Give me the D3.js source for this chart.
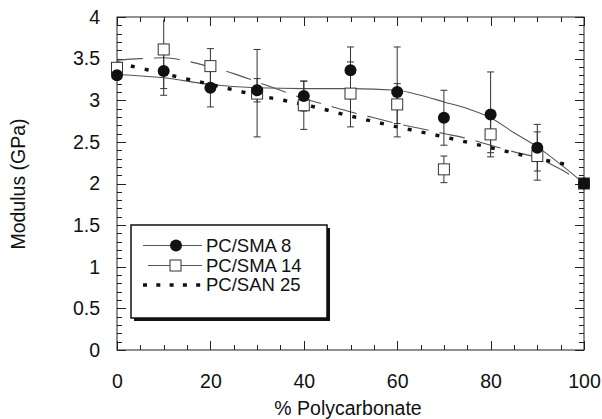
<!DOCTYPE html>
<html><head><meta charset="utf-8">
<script src="https://cdn.jsdelivr.net/npm/d3@7"></script>
<style>
body{margin:0;background:#fff;}
svg{display:block;}
text{font-family:"Liberation Sans",Arial,Helvetica,sans-serif;fill:#111;}
</style></head>
<body><svg id="c" width="602" height="419"></svg>
<script>
// ---- data ----
const pct = [0,10,20,30,40,50,60,70,80,90,100];
const sma8 = [3.30,3.35,3.15,3.12,3.05,3.36,3.10,2.79,2.83,2.43,2.00];
const sma8Lo = [null,3.06,2.92,2.98,2.87,3.08,2.56,2.46,2.32,2.15,null];
const sma8Hi = [null,3.56,3.38,3.26,3.23,3.64,3.64,3.12,3.34,2.71,null];
const sma14 = [3.39,3.61,3.41,3.08,2.94,3.08,2.95,2.17,2.59,2.33,2.00];
const sma14Lo = [null,3.14,3.20,2.56,2.65,2.68,2.72,2.01,2.37,2.04,null];
const sma14Hi = [null,3.97,3.62,3.61,3.23,3.46,3.20,2.33,2.81,2.62,null];
const fit8X = [0,10,20,30,40,50,60,65,70,75,80,85,90,95,100];
const fit8Y = [3.31,3.27,3.19,3.15,3.14,3.14,3.12,3.06,2.98,2.90,2.79,2.61,2.44,2.23,2.00];
const fit14X = [0,5,10,15,20,25,30,35,40,45,50,55,60,65,70,75,80,85,90,95,100];
const fit14Y = [3.48,3.50,3.51,3.47,3.40,3.32,3.22,3.12,3.02,2.94,2.86,2.79,2.72,2.66,2.60,2.54,2.46,2.38,2.31,2.17,2.00];
const san25X = [0,10,20,30,40,50,60,70,80,90,97];
const san25Y = [3.45,3.32,3.19,3.06,2.95,2.81,2.68,2.56,2.43,2.30,2.22];
const xTickLabels = [0,20,40,60,80,100];
const yTickLabels = [0,0.5,1,1.5,2,2.5,3,3.5,4];
const seriesNames = ["PC/SMA 8","PC/SMA 14","PC/SAN 25"];

// ---- layout ----
const L=117, R=584, T=17, B=350;
const svg = d3.select("#c");
const x = d3.scaleLinear().domain([0,100]).range([L,R]);
const y = d3.scaleLinear().domain([0,4]).range([B,T]);
const ink = "#222", lineC = "#555";

// frame
svg.append("rect").attr("x",L).attr("y",T).attr("width",R-L).attr("height",B-T)
  .attr("fill","none").attr("stroke",ink).attr("stroke-width",1);

// ticks (inward) on all sides
const xMinor = d3.range(0,101,5).filter(v=>!xTickLabels.includes(v));
const yMinor = d3.range(0,41,1).map(v=>v/10).filter(v=>!yTickLabels.some(t=>Math.abs(t-v)<1e-9));
function tickSet(axis, vals, len){
  const g = svg.append("g").attr("stroke",ink).attr("stroke-width",1);
  vals.forEach(v=>{
    if(axis==="x"){
      const px = Math.round(x(v))+0.5;
      g.append("line").attr("x1",px).attr("x2",px).attr("y1",B).attr("y2",B-len);
      g.append("line").attr("x1",px).attr("x2",px).attr("y1",T).attr("y2",T+len);
    } else {
      const py = Math.round(y(v))+0.5;
      g.append("line").attr("x1",L).attr("x2",L+len).attr("y1",py).attr("y2",py);
      g.append("line").attr("x1",R).attr("x2",R-len).attr("y1",py).attr("y2",py);
    }
  });
}
tickSet("x", xTickLabels, 9); tickSet("x", xMinor, 5);
tickSet("y", yTickLabels, 9); tickSet("y", yMinor, 5);

// tick labels via d3 axes (lines hidden)
const xAx = svg.append("g").attr("transform",`translate(0,${B})`)
  .call(d3.axisBottom(x).tickValues(xTickLabels).tickSize(0).tickPadding(24).tickFormat(d3.format("d")));
const yAx = svg.append("g").attr("transform",`translate(${L},0)`)
  .call(d3.axisLeft(y).tickValues(yTickLabels).tickSize(0).tickPadding(17).tickFormat(d=>String(d)));
[xAx,yAx].forEach(a=>{a.select(".domain").remove();
  a.selectAll("text").attr("font-size","19.5px").attr("font-family","Liberation Sans, Arial, sans-serif").attr("fill","#111");});

// axis titles
svg.append("text").attr("x",348).attr("y",415).attr("text-anchor","middle")
  .attr("font-size","19.5px").text("% Polycarbonate");
svg.append("text").attr("transform","translate(25,184) rotate(-90)").attr("text-anchor","middle")
  .attr("font-size","19.5px").text("Modulus (GPa)");

// fit lines
const line = d3.line().x(d=>x(d[0])).y(d=>y(d[1])).curve(d3.curveMonotoneX);
const plot = svg.append("g");
plot.append("path").datum(fit8X.map((v,i)=>[v,fit8Y[i]])).attr("d",line)
  .attr("fill","none").attr("stroke",lineC).attr("stroke-width",1.1);
plot.append("path").datum(fit14X.map((v,i)=>[v,fit14Y[i]])).attr("d",line)
  .attr("fill","none").attr("stroke",lineC).attr("stroke-width",1.1).attr("stroke-dasharray","26 11");
plot.append("path").datum(san25X.map((v,i)=>[v,san25Y[i]])).attr("d",line)
  .attr("fill","none").attr("stroke","#111").attr("stroke-width",3.4).attr("stroke-dasharray","4 10.2");

// error bars
function errBars(lo,hi){
  const g = plot.append("g").attr("stroke","#333").attr("stroke-width",1);
  pct.forEach((p,i)=>{
    if(lo[i]==null) return;
    const px = x(p);
    g.append("line").attr("x1",px).attr("x2",px).attr("y1",y(lo[i])).attr("y2",y(hi[i]));
    [lo[i],hi[i]].forEach(v=>{
      if(v>=3.96) return;
      g.append("line").attr("x1",px-3.5).attr("x2",px+3.5).attr("y1",y(v)).attr("y2",y(v));
    });
  });
}
errBars(sma14Lo,sma14Hi);
errBars(sma8Lo,sma8Hi);

// markers
plot.selectAll("rect.sq").data(pct.map((p,i)=>[p,sma14[i]])).enter().append("rect").attr("class","sq")
  .attr("x",d=>x(d[0])-5.5).attr("y",d=>y(d[1])-5.5).attr("width",11).attr("height",11)
  .attr("fill",(d,i)=>i===pct.length-1?"#111":"#fff").attr("stroke","#333").attr("stroke-width",1);
plot.selectAll("circle.ci").data(pct.map((p,i)=>[p,sma8[i]])).enter().append("circle").attr("class","ci")
  .attr("cx",d=>x(d[0])).attr("cy",d=>y(d[1])).attr("r",6).attr("fill","#111");

// legend
const lg = svg.append("g");
const lx=131, ly=225, lw=196, lh=93;
lg.append("rect").attr("x",lx+3).attr("y",ly+3).attr("width",lw).attr("height",lh).attr("fill","#111");
lg.append("rect").attr("x",lx).attr("y",ly).attr("width",lw).attr("height",lh)
  .attr("fill","#fff").attr("stroke","#111").attr("stroke-width",1.5);
const rows = [251.5,271.5,291];
// row 1
lg.append("line").attr("x1",143).attr("x2",202).attr("y1",rows[0]-6).attr("y2",rows[0]-6).attr("stroke",lineC).attr("stroke-width",1.1);
lg.append("circle").attr("cx",176).attr("cy",rows[0]-6).attr("r",6).attr("fill","#111");
// row 2
lg.append("line").attr("x1",148).attr("x2",202).attr("y1",rows[1]-6).attr("y2",rows[1]-6).attr("stroke",lineC).attr("stroke-width",1.1);
lg.append("rect").attr("x",170).attr("y",rows[1]-11.5).attr("width",11).attr("height",11).attr("fill","#fff").attr("stroke","#333");
// row 3
lg.append("line").attr("x1",143).attr("x2",203).attr("y1",rows[2]-6).attr("y2",rows[2]-6)
  .attr("stroke","#111").attr("stroke-width",3.4).attr("stroke-dasharray","4 9.3");
seriesNames.forEach((n,i)=>{
  lg.append("text").attr("x",206).attr("y",rows[i]).attr("font-size","18.5px").text(n);
});
</script></body></html>
